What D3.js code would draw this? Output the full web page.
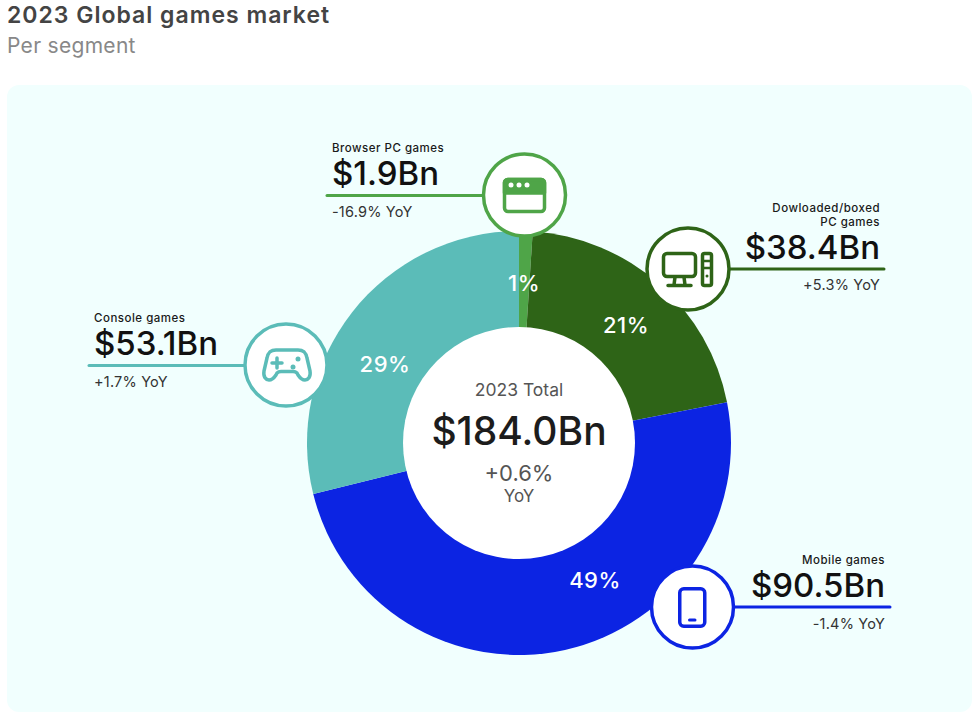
<!doctype html>
<html lang="en">
<head>
  <meta charset="utf-8">
  <title>2023 Global games market</title>
  <style>
    html, body { margin: 0; padding: 0; background: #fff; }
    svg { display: block; }
    text { font-family: Inter, "Open Sans", sans-serif; }
    .name { font-size: 11.5px; font-weight: 500; fill: #1a1a1a; letter-spacing: 0.5px; }
    .value { font-size: 33px; font-weight: 500; fill: #111; }
    .yoy { font-size: 14.5px; fill: #333; letter-spacing: 0.2px; }
    .pct { font-size: 22px; font-weight: 500; fill: #fff; text-anchor: middle; letter-spacing: 0.5px; }
  </style>
</head>
<body>
  <div class="chart"></div>
  <script src="https://d3js.org/d3.v7.min.js"></script>
  <script>
    'use strict';

    // values, clockwise from 12 o'clock
    const segments = ['Browser PC games', 'Dowloaded/boxed PC games', 'Mobile games', 'Console games'];
    const revenue = [1.9, 38.4, 90.5, 53.1];
    const shares = ['1%', '21%', '49%', '29%'];
    const yoy = ['-16.9% YoY', '+5.3% YoY', '-1.4% YoY', '+1.7% YoY'];
    const colors = ['#4fa548', '#2e6417', '#0c24e3', '#5bbcb8'];

    const width = 979;
    const height = 714;
    const cx = 519;
    const cy = 443;

    // where each callout sits: badge centre, leader line, text side
    const callouts = [
      {bx: 524.5, by: 195, x1: 327, x2: 483, ly: 195.5, tx: 332, anchor: 'start', nameY: [152], valueY: 185, yoyY: 217},
      {bx: 688, by: 269, x1: 884, x2: 729, ly: 269, tx: 880, anchor: 'end', nameY: [212, 226], valueY: 259, yoyY: 290},
      {bx: 692.5, by: 607, x1: 890, x2: 734, ly: 607, tx: 885, anchor: 'end', nameY: [564], valueY: 597, yoyY: 629},
      {bx: 286, by: 365, x1: 89, x2: 245, ly: 365.5, tx: 94, anchor: 'start', nameY: [322], valueY: 355, yoyY: 387}
    ];
    const pctPos = [[524, 291], [626, 333], [595, 588], [385, 372]];

    const svg = d3.select('.chart').append('svg')
      .attr('width', width)
      .attr('height', height);

    svg.append('text').attr('x', 7).attr('y', 23)
      .attr('font-size', 23).attr('font-weight', 600).attr('fill', '#444')
      .attr('letter-spacing', 1)
      .text('2023 Global games market');
    svg.append('text').attr('x', 7).attr('y', 53)
      .attr('font-size', 21).attr('fill', '#888')
      .attr('letter-spacing', 0.3)
      .text('Per segment');

    svg.append('rect')
      .attr('x', 7).attr('y', 85).attr('width', 965).attr('height', 627)
      .attr('rx', 12).attr('fill', '#f1fffe');

    const pie = d3.pie().sort(null)(revenue);
    const arc = d3.arc().innerRadius(0).outerRadius(212);

    svg.append('g')
      .attr('transform', `translate(${cx},${cy})`)
      .selectAll('path')
      .data(pie)
      .join('path')
      .attr('d', arc)
      .attr('fill', (d, i) => colors[i]);

    svg.append('circle')
      .attr('cx', cx).attr('cy', cy).attr('r', 116).attr('fill', '#fff');

    svg.selectAll('.pct')
      .data(shares)
      .join('text')
      .attr('class', 'pct')
      .attr('x', (d, i) => pctPos[i][0])
      .attr('y', (d, i) => pctPos[i][1])
      .text(d => d);

    // centre labels
    const centre = [
      {t: '2023 Total', y: 396, size: 17.5, weight: 400, fill: '#555'},
      {t: '$184.0Bn', y: 445, size: 39, weight: 500, fill: '#1c1c1c'},
      {t: '+0.6%', y: 481, size: 22, weight: 400, fill: '#555'},
      {t: 'YoY', y: 502, size: 17, weight: 400, fill: '#555'}
    ];
    svg.selectAll('.centre')
      .data(centre)
      .join('text')
      .attr('class', 'centre')
      .attr('x', cx)
      .attr('y', d => d.y)
      .attr('text-anchor', 'middle')
      .attr('font-size', d => d.size)
      .attr('font-weight', d => d.weight)
      .attr('fill', d => d.fill)
      .text(d => d.t);

    const nameLines = [['Browser PC games'], ['Dowloaded/boxed', 'PC games'], ['Mobile games'], ['Console games']];

    callouts.forEach((c, i) => {
      const g = svg.append('g');
      g.append('line')
        .attr('x1', c.x1).attr('x2', c.x2).attr('y1', c.ly).attr('y2', c.ly)
        .attr('stroke', colors[i]).attr('stroke-width', 3).attr('stroke-linecap', 'round');
      g.append('circle')
        .attr('cx', c.bx).attr('cy', c.by).attr('r', 41)
        .attr('fill', '#fff').attr('stroke', colors[i]).attr('stroke-width', 3.5);
      nameLines[i].forEach((line, j) => {
        g.append('text').attr('class', 'name')
          .attr('x', c.tx).attr('y', c.nameY[j]).attr('text-anchor', c.anchor).text(line);
      });
      g.append('text').attr('class', 'value')
        .attr('x', c.tx).attr('y', c.valueY).attr('text-anchor', c.anchor)
        .text(`$${revenue[i].toFixed(1)}Bn`);
      g.append('text').attr('class', 'yoy')
        .attr('x', c.tx).attr('y', c.yoyY).attr('text-anchor', c.anchor).text(yoy[i]);
    });

    function iconGroup(i, dx) {
      return svg.append('g')
        .attr('transform', `translate(${callouts[i].bx + dx},${callouts[i].by})`)
        .attr('fill', 'none')
        .attr('stroke', colors[i])
        .attr('stroke-width', 3.5)
        .attr('stroke-linejoin', 'round')
        .attr('stroke-linecap', 'round');
    }

    // browser window
    const browser = iconGroup(0, 0);
    browser.append('rect').attr('x', -20).attr('y', -15.5).attr('width', 40).attr('height', 32).attr('rx', 3.5);
    browser.append('path').attr('d', 'M-20,-12a3,3 0 0 1 3,-3.5h34a3,3 0 0 1 3,3.5v10h-40z')
      .attr('fill', colors[0]);
    browser.selectAll('.dot').data([-13.5, -5.5, 2.5]).join('circle')
      .attr('cx', d => d).attr('cy', -10).attr('r', 2.5).attr('fill', '#fff').attr('stroke', 'none');

    // desktop with tower
    const desktop = iconGroup(1, 0);
    desktop.append('rect').attr('x', -24.5).attr('y', -15.5).attr('width', 32).attr('height', 23).attr('rx', 3.5);
    desktop.append('path').attr('d', 'M-13,8l-1,8M-4,8l1,8M-20,16.5h23');
    desktop.append('rect').attr('x', 14.5).attr('y', -15.5).attr('width', 9).attr('height', 32).attr('rx', 2);
    desktop.append('path').attr('d', 'M14.5,-8h9M14.5,-1h9').attr('stroke-width', 2.5);
    desktop.append('circle').attr('cx', 19).attr('cy', 7).attr('r', 1.5).attr('fill', colors[1]).attr('stroke', 'none');

    // phone
    const phone = iconGroup(2, 0);
    phone.append('rect').attr('x', -12.75).attr('y', -18.25).attr('width', 25).attr('height', 37.5).attr('rx', 4);
    phone.append('path').attr('d', 'M-3,13h5.5').attr('stroke-width', 3);

    // gamepad
    const pad = iconGroup(3, 1);
    pad.append('path')
      .attr('d', 'M-11,-15H11C17,-15 19,-12 20,-7L23,6C24,12 21,15 18,15C15,15 13,13 11,10L10,8C9,7 8,6.5 6,6.5H-6C-8,6.5 -9,7 -10,8L-11,10C-13,13 -15,15 -18,15C-21,15 -24,12 -23,6L-20,-7C-19,-12 -17,-15 -11,-15Z');
    pad.append('path').attr('d', 'M-10,-7v10M-15,-2h10');
    pad.selectAll('.btn').data([[11, -6], [6, 2]]).join('circle')
      .attr('cx', d => d[0]).attr('cy', d => d[1]).attr('r', 2.5)
      .attr('fill', colors[3]).attr('stroke', 'none');
  </script>
</body>
</html>
